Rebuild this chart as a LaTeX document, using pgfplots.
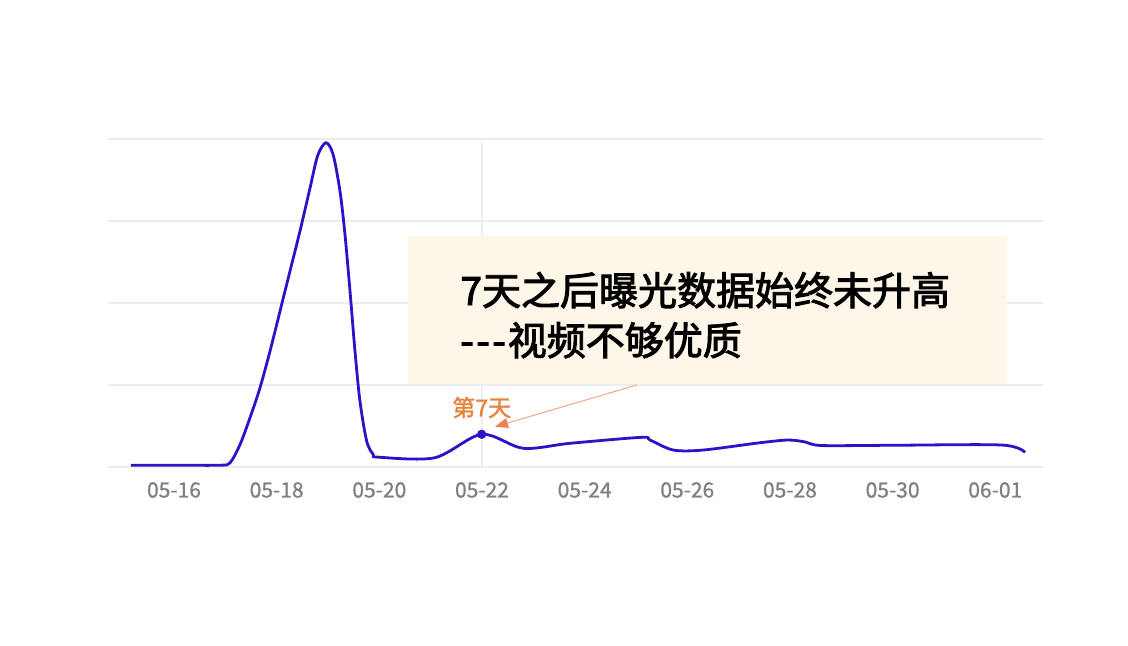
\documentclass[border=0pt]{standalone}
\usepackage{fontspec}
\setmainfont{Noto Sans CJK SC}
\newfontfamily\titlefont{Noto Sans CJK SC}[FakeBold=2.5]
\newfontfamily\tickfont{Noto Sans CJK SC}[FakeBold=1]
\newfontfamily\annofont{Noto Sans CJK SC}[FakeBold=1.5]
\usepackage{pgfplots}
\pgfplotsset{compat=1.18}
\usetikzlibrary{arrows.meta}

\definecolor{lineblue}{HTML}{2A14C8}
\definecolor{boxcream}{HTML}{FDF6E9}
\definecolor{anno}{HTML}{E8813A}
\definecolor{arrowline}{HTML}{F4A582}
\definecolor{arrowhead}{HTML}{F2814F}
\definecolor{tickgray}{HTML}{808080}
\definecolor{gridgray}{HTML}{EDEDED}

\begin{document}
\begin{tikzpicture}
  % page is 1128x645 px, 1 px = 0.5 pt
  \fill[white] (0,0) rectangle (564pt,322.5pt);
  \useasboundingbox (0,0) rectangle (564pt,322.5pt);

  \begin{axis}[
      at={(54pt,89pt)}, anchor=south west,
      scale only axis, width=467.5pt, height=164pt,
      xmin=-0.286, xmax=17.93, ymin=0, ymax=4,
      axis line style={draw=none},
      major tick length=0pt,
      xtick={1,3,5,7,9,11,13,15,17},
      xticklabels={05-16,05-18,05-20,05-22,05-24,05-26,05-28,05-30,06-01},
      xticklabel style={font=\tickfont\fontsize{10.5pt}{12pt}\selectfont, text=tickgray, anchor=center, yshift=-11.5pt},
      ytick={0,1,2,3,4}, yticklabels={},
      ymajorgrids, grid style={draw=gridgray, line width=0.6pt},
      clip=false,
    ]
    % cursor line at 05-22
    \draw[gridgray, line width=0.6pt] (axis cs:7,0) -- (axis cs:7,3.95);

    \addplot[lineblue, line width=1.4pt, smooth, tension=0.5] coordinates {
      (0.16,0.022) (1.0,0.022) (1.896,0.022) (2.091,0.051) (2.286,0.274)
      (2.480,0.600) (2.675,0.966) (2.870,1.412) (3.065,1.900) (3.259,2.388)
      (3.454,2.876) (3.649,3.40) (3.80,3.80) (3.961,3.955) (4.10,3.81)
      (4.234,3.363) (4.331,2.835) (4.429,2.144) (4.526,1.412) (4.623,0.802)
      (4.754,0.315) (4.882,0.152) (4.980,0.120) (6.08,0.113)
      (6.994,0.399) (7.804,0.228) (8.714,0.289) (10.111,0.362) (10.273,0.329)
      (10.727,0.207) (11.311,0.207) (12.416,0.296) (12.967,0.329) (13.3,0.305)
      (13.618,0.262) (15.0,0.265) (17.125,0.268) (17.578,0.179)
    };
    \addplot[only marks, mark=*, mark size=2.1pt, color=lineblue] coordinates {(6.994,0.399)};
  \end{axis}

  % annotation box
  \fill[boxcream] (204pt,130.5pt) rectangle (503.5pt,204.5pt);
  \node[anchor=base west, inner sep=0pt, font=\titlefont\fontsize{19.5pt}{23pt}\selectfont]
    at (230pt,170pt) {7天之后曝光数据始终未升高};
  \node[anchor=base west, inner sep=0pt, font=\titlefont\fontsize{19.5pt}{23pt}\selectfont]
    at (230pt,145pt) {-\kern1.2pt-\kern1.2pt-\kern1pt视频不够优质};

  % arrow and label
  \draw[arrowline, line width=0.5pt, -{Triangle[length=6.5pt,width=5pt,color=arrowhead]}]
    (318.35pt,130pt) -- (247.5pt,109.15pt);
  \node[text=anno, inner sep=0pt, font=\annofont\fontsize{11.5pt}{13pt}\selectfont]
    at (240.85pt,118.75pt) {第7天};
\end{tikzpicture}
\end{document}
